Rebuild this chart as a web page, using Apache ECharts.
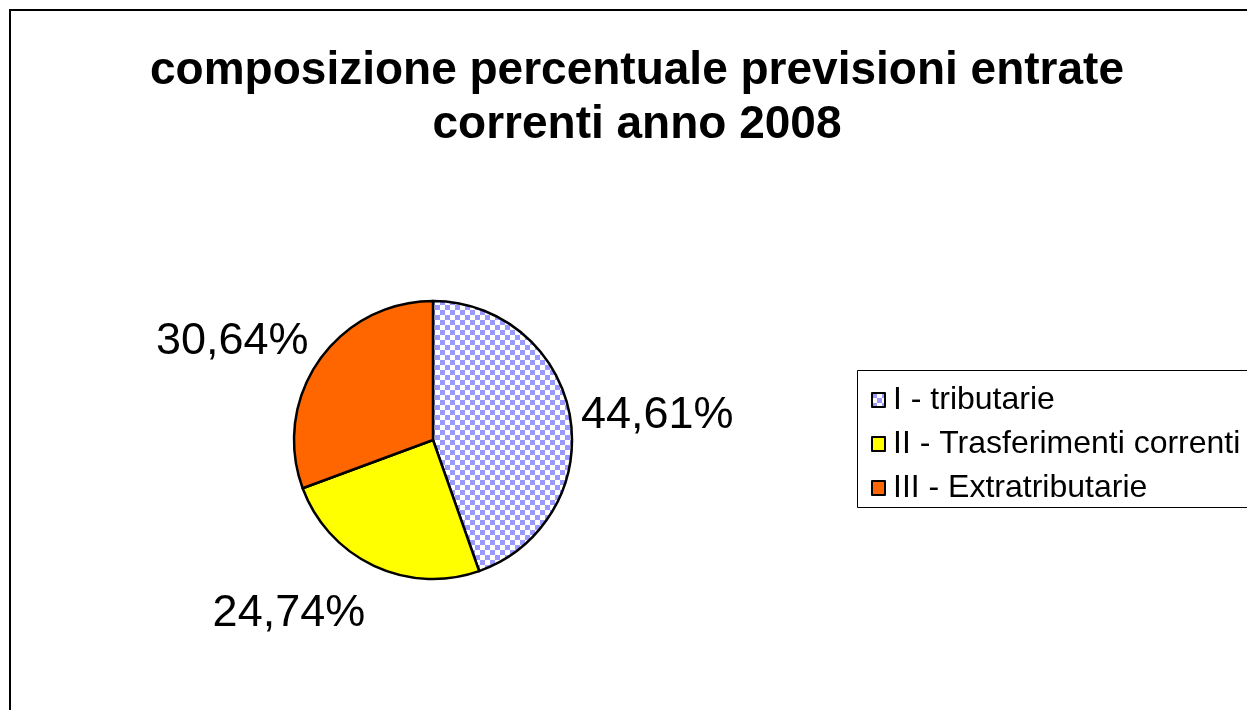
<!DOCTYPE html>
<html>
<head>
<meta charset="utf-8">
<script src="https://cdn.jsdelivr.net/npm/echarts@6/dist/echarts.min.js"></script>
<style>
  html, body { margin: 0; padding: 0; background: #fff; }
  #chart { width: 1247px; height: 710px; }
</style>
</head>
<body>
<div id="chart"></div>
<script>
const categories = ['I - tributarie', 'II - Trasferimenti correnti', 'III - Extratributarie']
const values = [44.61, 24.74, 30.64]
const colors = ['#9999ff', '#ffff00', '#ff6600']
// vertical nudge of each percentage label
const labelShift = [0, 44, -17]

// checker pattern like the old office fill
const makeChecker = (c) => {
  const cv = document.createElement('canvas')
  cv.width = 10
  cv.height = 10
  const ctx = cv.getContext('2d')
  ctx.fillStyle = '#ffffff'
  ctx.fillRect(0, 0, 10, 10)
  ctx.fillStyle = c
  ctx.fillRect(0, 0, 5, 5)
  ctx.fillRect(5, 5, 5, 5)
  return { image: cv, repeat: 'repeat' }
}

const fmt = (v) => v.toFixed(2).replace('.', ',') + '%'

const chart = echarts.init(document.getElementById('chart'))

const option = {
  animation: false,
  backgroundColor: '#fff',
  title: {
    text: 'composizione percentuale previsioni entrate\ncorrenti anno 2008',
    left: 632,
    top: 39,
    textAlign: 'center',
    textStyle: {
      fontFamily: 'Liberation Sans',
      fontWeight: 'bold',
      fontSize: 46,
      lineHeight: 54,
      color: '#000'
    }
  },
  legend: {
    orient: 'vertical',
    left: 866,
    top: 379,
    itemWidth: 13,
    itemHeight: 14,
    itemGap: 12,
    icon: 'rect',
    textStyle: {
      fontFamily: 'Liberation Sans',
      fontSize: 32,
      color: '#000',
      padding: [0, 0, 0, 3]
    },
    itemStyle: { borderColor: '#000', borderWidth: 2 }
  },
  graphic: [
    {
      type: 'rect',
      shape: { x: 10, y: 10, width: 1300, height: 800 },
      style: { fill: 'none', stroke: '#000', lineWidth: 2 },
      silent: true
    },
    {
      type: 'rect',
      shape: { x: 857.5, y: 370.5, width: 420, height: 137 },
      style: { fill: 'none', stroke: '#000', lineWidth: 1 },
      silent: true
    }
  ],
  series: [{
    type: 'pie',
    center: [433, 440],
    radius: 139,
    startAngle: 90,
    clockwise: true,
    itemStyle: { borderColor: '#000', borderWidth: 2.5 },
    label: {
      show: true,
      position: 'outside',
      fontFamily: 'Liberation Sans',
      fontSize: 45,
      color: '#000',
      formatter: (p) => fmt(p.value)
    },
    labelLine: { show: false, length: 4, length2: 2 },
    labelLayout: (p) => ({ dy: labelShift[p.dataIndex] }),
    emphasis: { disabled: true },
    data: categories.map((name, i) => ({
      name: name,
      value: values[i],
      itemStyle: { color: i === 0 ? makeChecker(colors[0]) : colors[i] }
    }))
  }]
}

chart.setOption(option)
</script>
</body>
</html>
